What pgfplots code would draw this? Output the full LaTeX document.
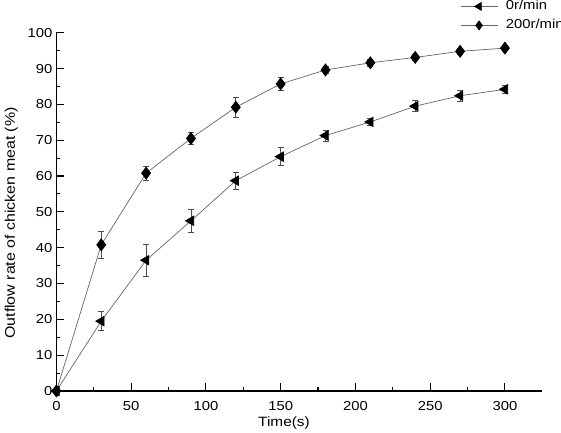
\documentclass[border=0pt]{standalone}
\usepackage{fontspec}
\setmainfont{Liberation Sans}[FakeStretch=1.14]
\usepackage{pgfplots}
\pgfplotsset{compat=1.18}
\usepackage{pgfplotstable}
\pgfplotstableread{
x y e
0 0 0
30 19.5 2.7
60 36.5 4.5
90 47.5 3.3
120 58.7 2.3
150 65.4 2.5
180 71.3 1.5
210 75.1 1.0
240 79.5 1.5
270 82.4 1.5
300 84.2 1.0
}\slow
\pgfplotstableread{
x y e
0 0 0
30 40.8 3.7
60 60.8 2.0
90 70.5 1.6
120 79.2 2.8
150 85.7 1.8
180 89.6 1.0
210 91.6 1.0
240 93.1 0.8
270 94.8 0.8
300 95.7 0.6
}\fast
\newcommand{\tfont}{\fontsize{13}{15.5}\selectfont}
\begin{document}
\begin{tikzpicture}
\path[use as bounding box] (-56.4pt,-41pt) rectangle (504.6pt,391pt);
\begin{axis}[
  at={(0,0)}, anchor=south west,
  scale only axis, width=485.3pt, height=358.3pt,
  xmin=0, xmax=324.6, ymin=0, ymax=100,
  axis x line*=bottom, axis y line*=left,
  axis line style={-, line width=1.1pt, black},
  xtick={0,50,...,300}, ytick={0,10,...,100},
  minor x tick num=1, minor y tick num=1,
  extra x ticks={325}, extra x tick labels={}, extra x tick style={major tick length=4pt},
  tick align=inside,
  major tick length=8pt, minor tick length=4pt,
  tick style={line width=1.1pt, black},
  /pgf/number format/assume math mode=true,
  tick label style={font=\tfont},
  xticklabel style={yshift=-7pt},
  yticklabel style={xshift=-0.5pt},
  xlabel={Time(s)},
  ylabel={Outflow rate of chicken meat (\%)},
  xlabel style={font=\fontsize{13.5}{16}\selectfont, at={(axis description cs:0.469,0)}, anchor=north, yshift=-22pt},
  ylabel style={font=\fontsize{14}{16}\selectfont, at={(axis description cs:0,0.469)}, anchor=south, yshift=35pt},
  legend style={draw=none, fill=none, at={(0.8317,1.092)}, anchor=north west,
    inner sep=0pt, row sep=6pt, column sep=8pt,
    nodes={inner sep=0pt, text height=10pt, text depth=3pt}, font=\tfont},
  legend cell align=left,
  legend image code/.code={
    \draw[#1, mark=none] (0pt,0pt) -- (37pt,0pt);
    \begin{scope}[shift={(18.5pt,0pt)}]
      \draw[#1, only marks, mark size=4.5pt] plot coordinates {(0pt,0pt)};
    \end{scope}
  },
  error bars/error bar style={line width=0.7pt, black!70},
  error bars/error mark options={rotate=90, mark size=3pt, line width=0.7pt, black!70},
]
\addplot[black!60, line width=0.7pt, mark=triangle*, mark size=5.5pt,
  mark options={rotate=90, fill=black, draw=black},
  error bars/.cd, y dir=both, y explicit]
  table[x=x, y=y, y error=e] {\slow};
\addlegendentry{0r/min}
\addplot[black!60, line width=0.7pt, mark=diamond*, mark size=6pt,
  mark options={fill=black, draw=black},
  error bars/.cd, y dir=both, y explicit]
  table[x=x, y=y, y error=e] {\fast};
\addlegendentry{200r/min}
\end{axis}
\end{tikzpicture}
\end{document}
